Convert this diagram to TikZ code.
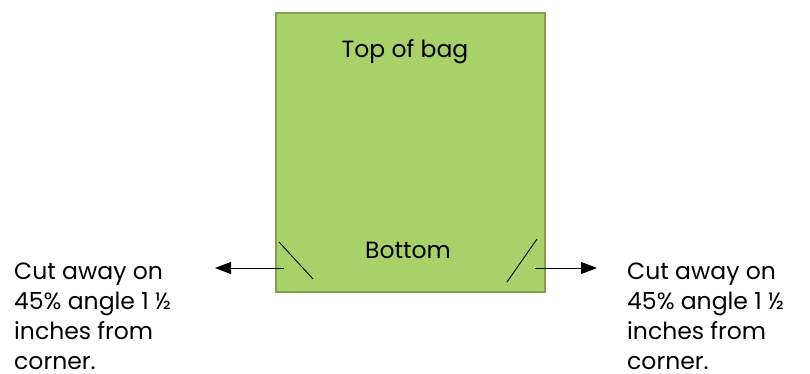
\documentclass[tikz,border=0pt]{standalone}
\usepackage{fontspec}
\setmainfont{Poppins}
\usetikzlibrary{arrows.meta,positioning}
\definecolor{bagfill}{RGB}{169,209,106}
\definecolor{bagline}{RGB}{128,160,76}

\begin{document}
\begin{tikzpicture}[x=1pt,y=-1pt,
    note/.style={align=left,font=\fontsize{23.5}{30}\selectfont,inner sep=0pt,anchor=north west},
    label/.style={font=\fontsize{23.5}{28}\selectfont,inner sep=0pt,anchor=base},
    cut/.style={line width=0.9pt},
    pointer/.style={-{Triangle[length=16pt,width=12pt]},line width=1pt}]
    \useasboundingbox (0,0) rectangle (810,373);
    \node[draw=bagline,fill=bagfill,line width=2.2pt,minimum width=269pt,minimum height=279pt,
          inner sep=0pt,anchor=north west] (bag) at (275,12) {};
    \node[label] (top) at (405,57) {Top of bag};
    \node[label] (bottom) at (408,258) {Bottom};
    % corner cuts
    \coordinate (lcutA) at (279,242);
    \coordinate (lcutB) at (313,279);
    \coordinate (rcutA) at (537,239);
    \coordinate (rcutB) at (507,282);
    \draw[cut] (lcutA) -- (lcutB);
    \draw[cut] (rcutA) -- (rcutB);
    % notes
    \node[note] (lnote) at (14,263) {Cut away on\\45\% angle 1 ½\\inches from\\corner.};
    \node[note] (rnote) at (627,263) {Cut away on\\45\% angle 1 ½\\inches from\\corner.};
    \coordinate (lfrom) at (284,268);
    \coordinate (lto) at (215,268);
    \coordinate (rfrom) at (535,268);
    \coordinate (rto) at (597,268);
    \draw[pointer] (lfrom) -- (lto);
    \draw[pointer] (rfrom) -- (rto);
\end{tikzpicture}
\end{document}
